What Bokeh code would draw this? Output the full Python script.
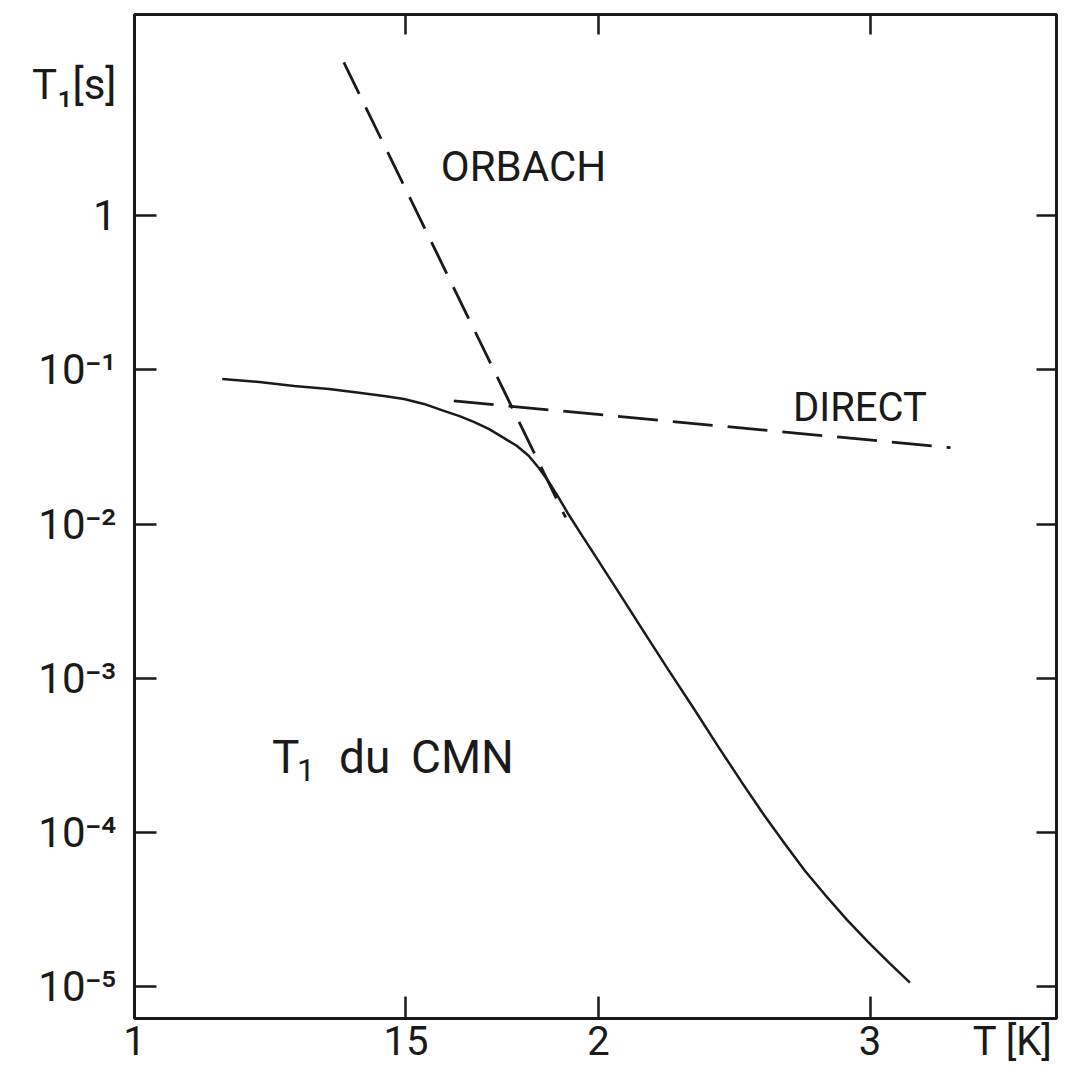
from bokeh.plotting import figure
from bokeh.models import Range1d, FixedTicker, Label, LogAxis, CustomJSTickFormatter
from bokeh.embed import file_html
from bokeh.resources import INLINE

# ---- data ----
total_T = [1.1400, 1.2049, 1.2691, 1.3371, 1.4026, 1.4515, 1.4956, 1.5407, 1.5873,
           1.6232, 1.6598, 1.6973, 1.7357, 1.7697, 1.8016, 1.8287, 1.8562, 1.8841,
           1.9124, 1.9470, 1.9851, 2.0605, 2.1385, 2.2196, 2.3037, 2.3912, 2.4820,
           2.5610, 2.6425, 2.7224, 2.8090, 2.8984, 2.9906, 3.0857, 3.1838]
total_T1 = [0.08721, 0.08339, 0.07857, 0.07516, 0.07081, 0.06772, 0.06477, 0.06013,
            0.05418, 0.05030, 0.04600, 0.04146, 0.03626, 0.03219, 0.02774, 0.02320,
            0.01884, 0.01485, 0.01153, 0.008697, 0.006456, 0.003615, 0.002023,
            0.001133, 6.437e-4, 3.604e-4, 2.048e-4, 1.291e-4, 8.39e-5, 5.615e-5,
            3.872e-5, 2.709e-5, 1.953e-5, 1.429e-5, 1.061e-5]

orbach_T = [1.367, 1.904]
orbach_T1 = [9.88, 0.01103]

direct_T = [1.611, 3.383]
direct_T1 = [0.0629, 0.0313]

x_tick_values = [1.5, 2, 3]
x_label_values = [1, 1.5, 2, 3, 3.712]
x_label_texts = ["1", "15", "2", "3", "T [K]"]

y_tick_values = [1e-5, 1e-4, 1e-3, 1e-2, 1e-1, 1]
y_label_values = [1e-5, 1e-4, 1e-3, 1e-2, 1e-1, 1, 7.12]
y_label_texts = ["10⁻⁵", "10⁻⁴", "10⁻³", "10⁻²", "10⁻¹", "1", "T₁[s]"]

X_MIN, X_MAX = 1.0, 3.963
Y_MIN, Y_MAX = 10 ** -5.207, 10 ** 1.305

FONT = "Roboto"
INK = "#1a1a1a"

p = figure(width=1059, height=1067, x_axis_type="log", y_axis_type="log",
           x_range=Range1d(X_MIN, X_MAX), y_range=Range1d(Y_MIN, Y_MAX),
           output_backend="svg", toolbar_location=None,
           min_border_left=134, min_border_right=3, min_border_top=14, min_border_bottom=0)

p.background_fill_color = "white"
p.border_fill_color = "white"
p.grid.visible = False
p.outline_line_color = INK
p.outline_line_width = 3

bottom = p.below[0]
left = p.left[0]
top = LogAxis()
right = LogAxis()
p.add_layout(top, "above")
p.add_layout(right, "right")

for ax in (bottom, left, top, right):
    ax.axis_line_color = INK
    ax.axis_line_width = 3
    ax.major_tick_out = 0
    ax.minor_tick_out = 0
    ax.major_label_text_color = INK
    ax.major_label_text_font = FONT

# frame-only axes: ticks inside, no labels
blank = CustomJSTickFormatter(code="return ''")
top.ticker = FixedTicker(ticks=x_tick_values)
right.ticker = FixedTicker(ticks=y_tick_values)
for ax in (top, right):
    ax.formatter = blank
    ax.major_label_text_font_size = "1px"
    ax.major_label_standoff = 0
    ax.major_tick_line_color = INK
    ax.major_tick_line_width = 2.5
    ax.major_tick_in = 20
    ax.minor_tick_line_color = None

# labelled axes: labels on (hidden) major ticks, tick marks drawn as minor ticks
bottom.ticker = FixedTicker(ticks=x_label_values, minor_ticks=x_tick_values)
bottom.major_label_overrides = dict(zip(x_label_values, x_label_texts))
left.ticker = FixedTicker(ticks=y_label_values, minor_ticks=y_tick_values)
left.major_label_overrides = dict(zip(y_label_values, y_label_texts))
for ax in (bottom, left):
    ax.major_tick_line_color = None
    ax.major_tick_in = 0
    ax.minor_tick_line_color = INK
    ax.minor_tick_line_width = 2.5
    ax.minor_tick_in = 22
bottom.major_label_text_font_size = "40px"
bottom.major_label_standoff = -1
left.major_label_text_font_size = "42px"
left.major_label_standoff = 18

# ---- curves ----
p.line(total_T, total_T1, line_color=INK, line_width=2.5, line_join="round")
p.line(orbach_T, orbach_T1, line_color=INK, line_width=2.8, line_dash="35 15")
p.line(direct_T, direct_T1, line_color=INK, line_width=2.8, line_dash="40 15")


def add_label(x, y, text, size, xo=0, yo=0):
    p.add_layout(Label(x=x, y=y, text=text, x_offset=xo, y_offset=yo,
                       text_font=FONT, text_font_size=f"{size}px", text_color=INK,
                       text_align="left", text_baseline="alphabetic"))


add_label(1.580, 2.07, "ORBACH", 42)
add_label(2.674, 0.0567, "DIRECT", 40)
add_label(1.228, 3.10e-4, "T", 46)
add_label(1.228, 3.10e-4, "1", 32, xo=25, yo=-13)
add_label(1.228, 3.10e-4, "du", 46, xo=67)
add_label(1.228, 3.10e-4, "CMN", 46, xo=139)

open("out.html", "w").write(file_html(p, INLINE))
